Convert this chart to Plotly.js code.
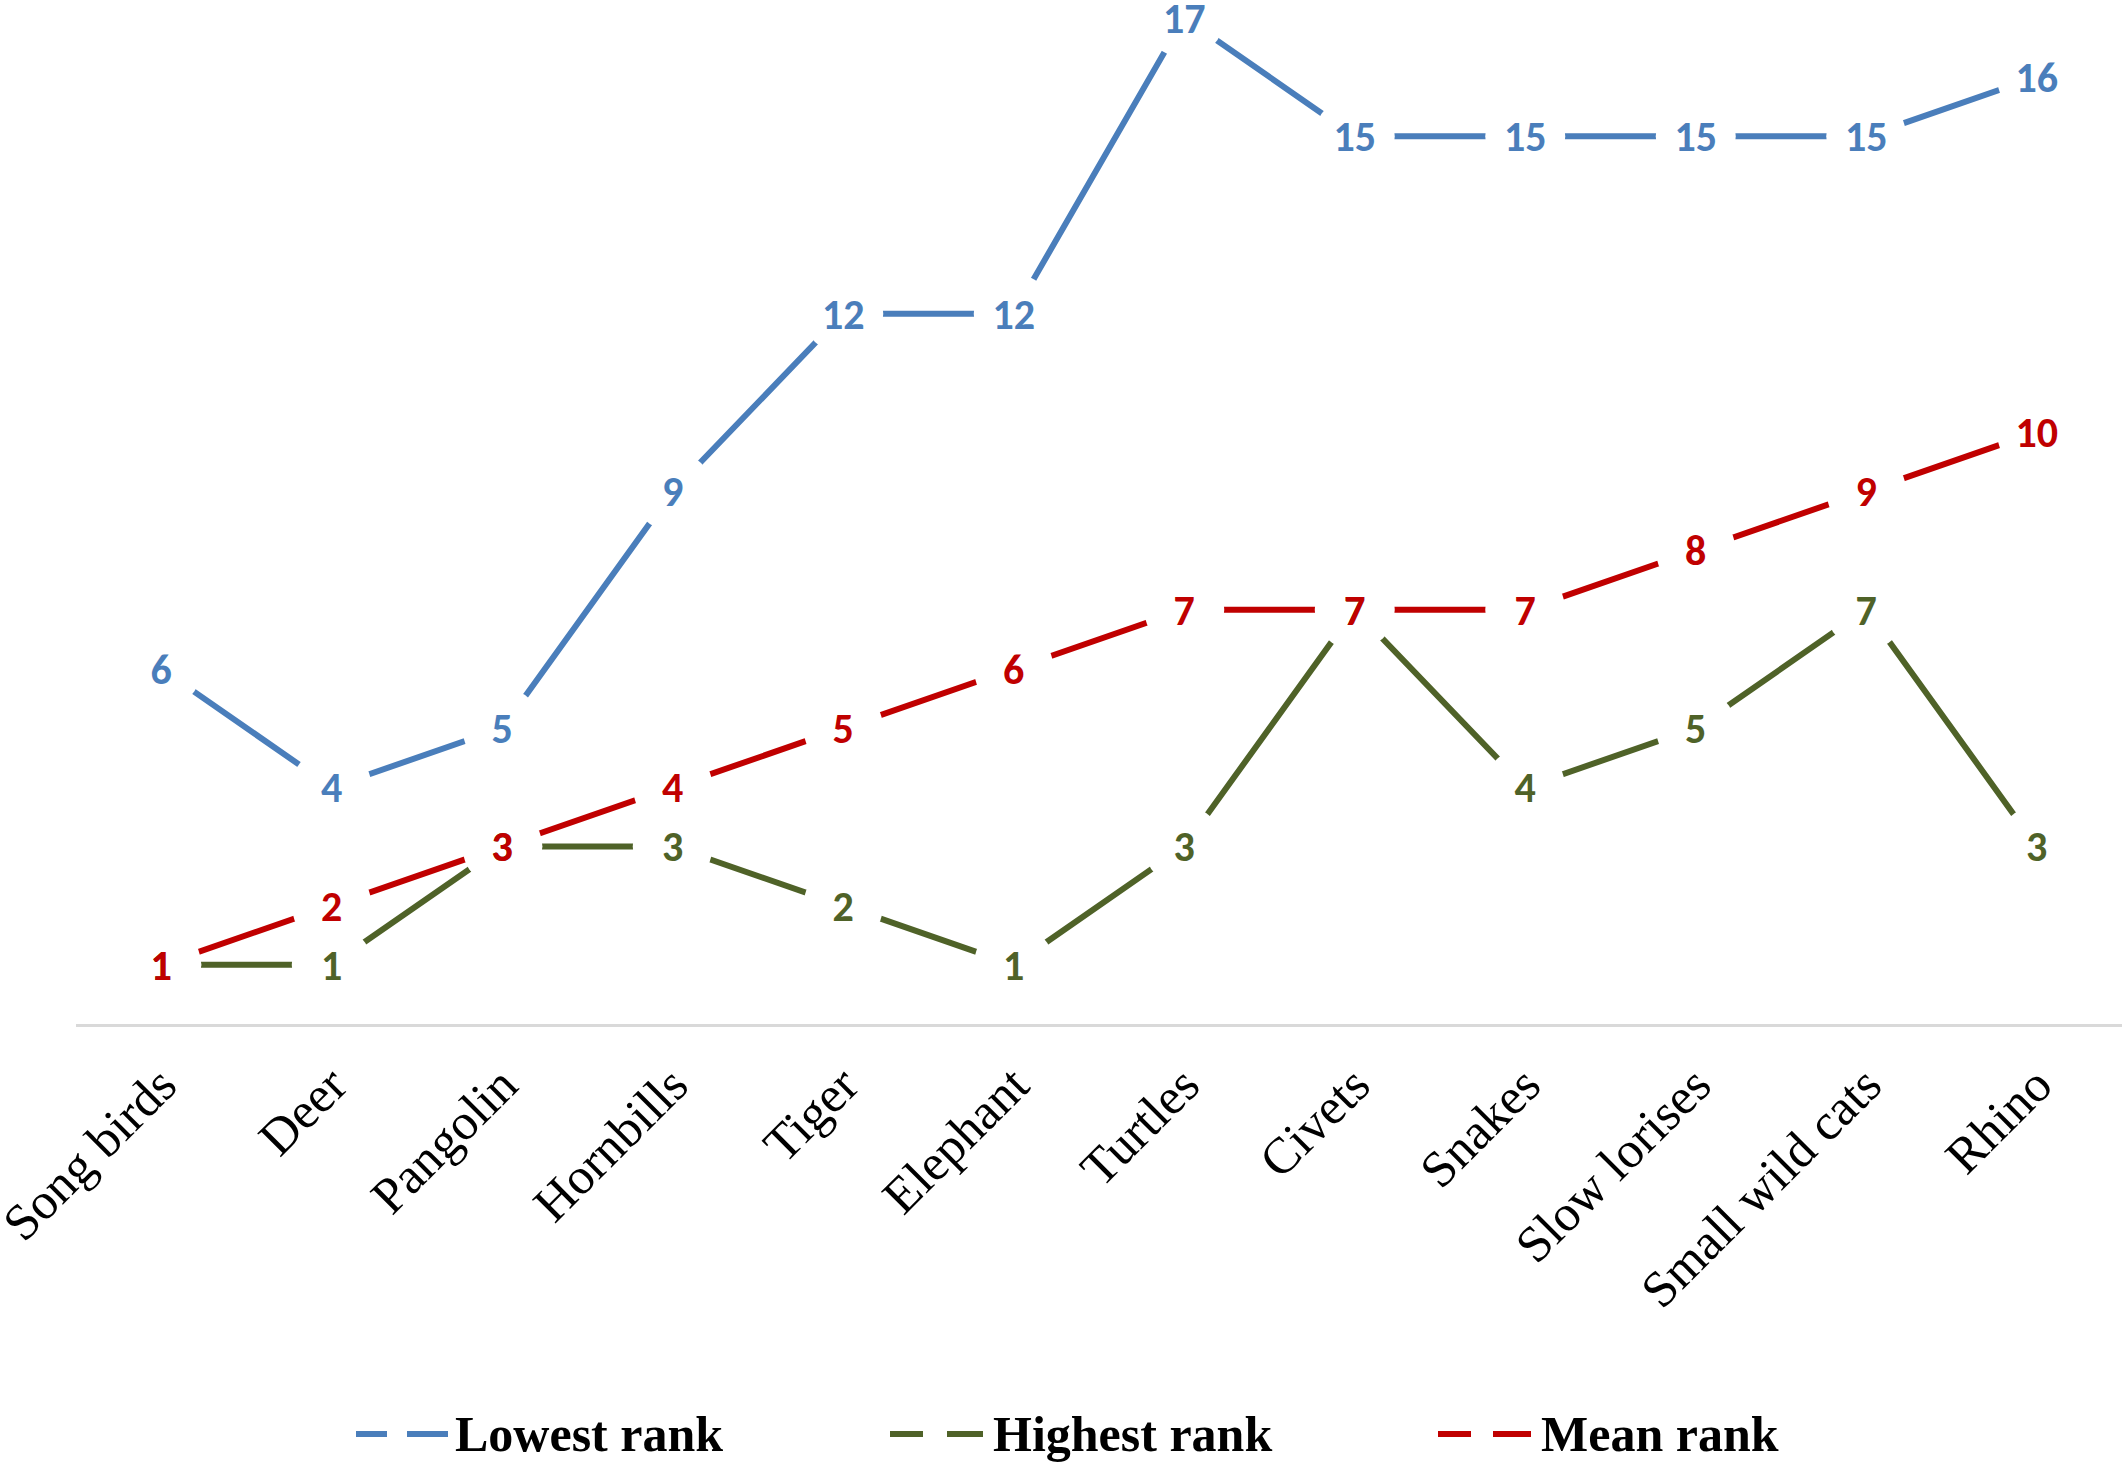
<!DOCTYPE html>
<html>
<head>
<meta charset="utf-8">
<script src="https://cdn.plot.ly/plotly-3.0.1.min.js"></script>
<style>html,body{margin:0;padding:0;background:#fff;}#chart{width:2128px;height:1464px;}</style>
</head>
<body>
<div id="chart"></div>
<script>
const categories = ["Song birds","Deer","Pangolin","Hornbills","Tiger","Elephant","Turtles","Civets","Snakes","Slow lorises","Small wild cats","Rhino"];
const lowestRank = [6,4,5,9,12,12,17,15,15,15,15,16];
const highestRank = [1,1,3,3,2,1,3,7,4,5,7,3];
const meanRank = [1,2,3,4,5,6,7,7,7,8,9,10];
const seriesNames = ["Lowest rank","Highest rank","Mean rank"];
const seriesColors = ["#4A7EBB","#4F6228","#C00000"];
const allSeries = [lowestRank, highestRank, meanRank];

const labelFont = "Carlito, 'Liberation Sans Narrow', 'Open Sans', sans-serif";
const serif = "'Liberation Serif', 'Times New Roman', serif";

function lineTrace(vals, i) {
  return {
    type: "scatter", mode: "lines+markers",
    x: categories, y: vals, name: seriesNames[i],
    line: {color: seriesColors[i], width: 6},
    marker: {symbol: "circle", size: 80, color: "#ffffff", line: {width: 0}},
    cliponaxis: false, showlegend: false, hoverinfo: "skip"
  };
}
function labelTrace(vals, i) {
  return {
    type: "scatter", mode: "text",
    x: categories, y: vals, name: seriesNames[i],
    yaxis: "y2",
    text: vals.map(String),
    textposition: "middle center",
    textfont: {family: labelFont, size: 42, color: seriesColors[i], weight: "bold"},
    cliponaxis: false, showlegend: false, hoverinfo: "skip"
  };
}

const data = allSeries.map(lineTrace).concat(allSeries.map(labelTrace));

// custom legend (pixel -> paper conversion)
const L = 76, W = 2046, T = 0, H = 1024;
const px = v => (v - L) / W;
const py = v => (T + H - v) / H;
const legY = 1434;
const legendItems = [
  {d1:[356,387], d2:[407,448], tx:453},
  {d1:[890,923], d2:[947,983], tx:991},
  {d1:[1438,1471], d2:[1493,1531], tx:1539}
];
const shapes = [];
const annotations = [];
legendItems.forEach((it, i) => {
  [it.d1, it.d2].forEach(d => shapes.push({
    type: "line", xref: "paper", yref: "paper",
    x0: px(d[0]), x1: px(d[1]), y0: py(legY), y1: py(legY),
    line: {color: seriesColors[i], width: 6}
  }));
  annotations.push({
    xref: "paper", yref: "paper", x: px(it.tx), y: py(legY),
    xanchor: "left", yanchor: "middle", showarrow: false,
    text: "<b>" + seriesNames[i] + "</b>",
    font: {family: serif, size: 50, color: "#000000"}
  });
});

const yRange = [0, 17.3];
const labelShift = 0.076; // labels sit slightly below the point centre, as in the reference

const layout = {
  width: 2128, height: 1464,
  margin: {l: L, r: 2128 - L - W, t: T, b: 1464 - T - H},
  paper_bgcolor: "#ffffff", plot_bgcolor: "#ffffff",
  showlegend: false,
  xaxis: {
    type: "category",
    range: [-0.5, 11.5],
    showgrid: false, zeroline: false,
    showline: true, linecolor: "#D9D9D9", linewidth: 2.5,
    ticks: "", tickangle: -45,
    ticklabelstandoff: 8,
    tickfont: {family: serif, size: 51, color: "#000000"},
    fixedrange: true
  },
  yaxis: {
    range: yRange,
    showgrid: false, zeroline: false, showline: false,
    showticklabels: false, ticks: "", fixedrange: true
  },
  yaxis2: {
    overlaying: "y",
    range: [yRange[0] + labelShift, yRange[1] + labelShift],
    showgrid: false, zeroline: false, showline: false,
    showticklabels: false, ticks: "", fixedrange: true
  },
  shapes: shapes,
  annotations: annotations
};

Plotly.newPlot("chart", data, layout, {staticPlot: true, displayModeBar: false});
</script>
</body>
</html>
